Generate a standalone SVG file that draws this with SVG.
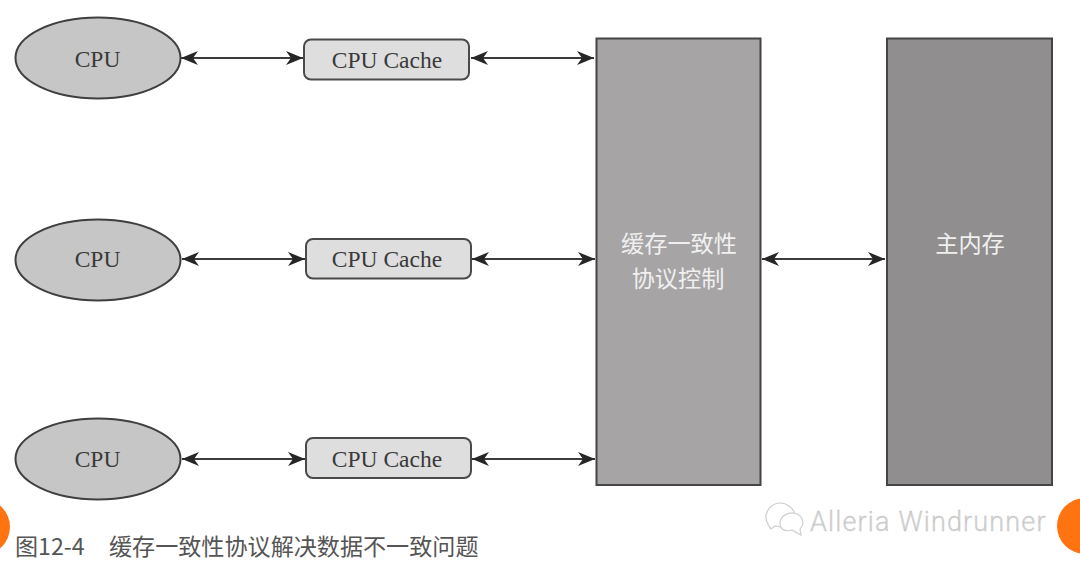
<svg xmlns="http://www.w3.org/2000/svg" width="1080" height="566" viewBox="0 0 1080 566">
<style>
.cpu{fill:#c6c6c6;stroke:#3f3f3f;stroke-width:2}
.cache{fill:#dedede;stroke:#4a4a4a;stroke-width:2}
.lbl{font-family:"Liberation Serif",serif;font-size:23.500px;fill:#3a3a3a;text-anchor:middle}
.zh{font-family:"Noto Sans CJK SC",sans-serif;font-size:23.200px;fill:#f0f0f0;text-anchor:middle}
.cap{font-family:"Noto Sans CJK SC",sans-serif;font-size:23.100px;fill:#555}
.conn{stroke:#3c3c3c;stroke-width:2;fill:none;marker-start:url(#a);marker-end:url(#b)}
</style>
<defs>
<marker id="b" markerUnits="userSpaceOnUse" markerWidth="18" markerHeight="14" refX="17" refY="7" orient="auto"><path d="M0 0L17 7L0 14L5 7Z" fill="#262626"/></marker>
<marker id="a" markerUnits="userSpaceOnUse" markerWidth="18" markerHeight="14" refX="1" refY="7" orient="auto"><path d="M18 0L1 7L18 14L13 7Z" fill="#262626"/></marker>
</defs>
<rect width="1080" height="566" fill="#fff"/>
<g id="connectors">
<path class="conn" d="M181 58H303"/>
<path class="conn" d="M471 58H594"/>
<path class="conn" d="M182 259H305"/>
<path class="conn" d="M472 259H595"/>
<path class="conn" d="M182 459H305"/>
<path class="conn" d="M472 459H595"/>
<path class="conn" d="M762 259H885"/>
</g>
<g id="cpu1"><ellipse class="cpu" cx="98" cy="58" rx="82.500" ry="40.500"/><text class="lbl" x="97.500" y="67">CPU</text></g>
<g id="cpu2"><ellipse class="cpu" cx="98" cy="260" rx="82.500" ry="40.500"/><text class="lbl" x="97.500" y="267">CPU</text></g>
<g id="cpu3"><ellipse class="cpu" cx="98" cy="459" rx="82.500" ry="40.500"/><text class="lbl" x="97.500" y="467">CPU</text></g>
<g id="cache1"><rect class="cache" x="304" y="39.500" width="165" height="40" rx="7"/><text class="lbl" x="387" y="68">CPU Cache</text></g>
<g id="cache2"><rect class="cache" x="306" y="239" width="165" height="39.500" rx="7"/><text class="lbl" x="387" y="267">CPU Cache</text></g>
<g id="cache3"><rect class="cache" x="306" y="438" width="165" height="40" rx="7"/><text class="lbl" x="387" y="467">CPU Cache</text></g>
<g id="coherence"><rect x="596.500" y="38.500" width="164" height="446.500" fill="#a6a4a5" stroke="#454545" stroke-width="2"/><text class="zh" x="679" y="252">缓存一致性</text><text class="zh" x="678" y="287">协议控制</text></g>
<g id="memory"><rect x="887" y="38.500" width="165" height="446.500" fill="#908e8f" stroke="#454545" stroke-width="2"/><text class="zh" x="970" y="252">主内存</text></g>
<circle cx="-18" cy="527" r="28" fill="#ff7410"/>
<circle cx="1085" cy="526" r="28" fill="#ff7410"/>
<text class="cap" x="15" y="555">图12-4</text>
<text class="cap" x="109" y="555">缓存一致性协议解决数据不一致问题</text>
<g fill="#fff" stroke="#cfcfcf" stroke-width="1.200">
<path d="M771 529Q765 521 766 515C768 507 774 503 780 503C787 503 793 508 795 514C790 512 782 514 781 522Q780 525 781 527L775 526Z"/>
<path d="M792 530C786 532 780 530 780 523C780 517 786 513 792 513C799 513 803 518 803 523C803 526 801 528 800 529L801 535Z"/>
</g>
<text x="810" y="531" font-family="Roboto,sans-serif" font-size="27" font-weight="300" letter-spacing="1.150" fill="#d4d4d4" stroke="#bdbdbd" stroke-width=".3">Alleria Windrunner</text>
</svg>
